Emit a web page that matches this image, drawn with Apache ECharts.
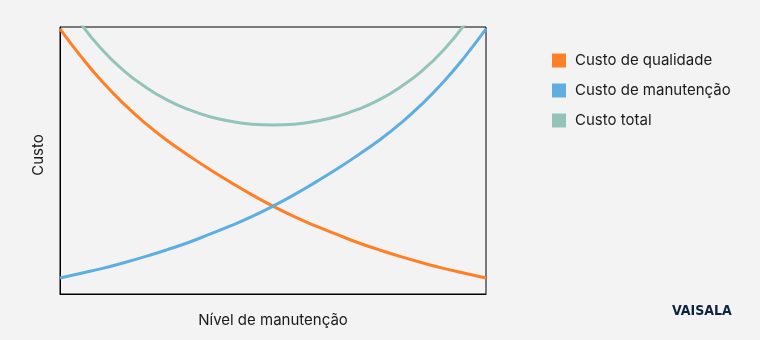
<!DOCTYPE html>
<html>
<head>
<meta charset="utf-8">
<script src="https://cdn.jsdelivr.net/npm/echarts@6/dist/echarts.min.js"></script>
<style>
html,body{margin:0;padding:0;background:#f3f3f3;}
#c{width:760px;height:340px;}
</style>
</head>
<body>
<div id="c"></div>
<script>
// Maintenance level steps (0..20)
const levels = [0,1,2,3,4,5,6,7,8,9,10,11,12,13,14,15,16,17,18,19,20];
const qualityCost = [99.3,88.8,79.4,71.2,64.0,57.7,52.1,46.8,41.9,37.2,32.9,29.0,25.5,22.3,19.2,16.5,14.0,11.7,9.6,7.8,6.0];
const maintenanceCost = [6.0,7.8,9.6,11.7,14.0,16.5,19.2,22.3,25.5,29.0,32.9,37.2,41.9,46.8,52.1,57.7,64.0,71.2,79.4,88.8,99.3];
const totalCost = [113.3,101.0,91.3,83.6,77.6,72.8,69.2,66.5,64.7,63.6,63.3,63.6,64.7,66.5,69.2,72.8,77.6,83.6,91.3,101.0,113.3];
const seriesNames = ['Custo de qualidade','Custo de manutenção','Custo total'];
const colors = ['#ff7f27','#5eaee0','#93c4b9'];

const font = 'Inter, "Noto Sans", sans-serif';
const pairs = arr => levels.map((x,i)=>[x, arr[i]]);
const mk = (name, arr, color) => ({
  name, type:'line', data:pairs(arr), smooth:true, symbol:'none',
  lineStyle:{color, width:3}, itemStyle:{color}, clip:true, z: 3
});

const chart = echarts.init(document.getElementById('c'));
chart.setOption({
  backgroundColor:'#f3f3f3',
  animation:false,
  grid:{left:60, right:274, top:27, bottom:46, show:true, borderColor:'#000', borderWidth:1, backgroundColor:'transparent'},
  xAxis:{type:'value', min:0, max:20, name:'Nível de manutenção', nameLocation:'middle', nameGap:19,
    nameTextStyle:{color:'#1a1a1a', fontSize:15, fontFamily:font},
    axisLine:{show:true, lineStyle:{color:'#000', width:1}}, axisTick:{show:false}, axisLabel:{show:false}, splitLine:{show:false}},
  yAxis:{type:'value', min:0, max:100,
    axisLine:{show:true, lineStyle:{color:'#000', width:1}}, axisTick:{show:false}, axisLabel:{show:false}, splitLine:{show:false}},
  legend:{orient:'vertical', left:547, top:48, icon:'rect', itemWidth:14, itemHeight:14, itemGap:15,
    data:seriesNames,
    textStyle:{color:'#1a1a1a', fontSize:15, fontFamily:font, padding:[0,0,0,4]}},
  series:[
    mk(seriesNames[0], qualityCost, colors[0]),
    mk(seriesNames[1], maintenanceCost, colors[1]),
    mk(seriesNames[2], totalCost, colors[2])
  ],
  graphic:[
    {type:'text', x:38, y:155, rotation:Math.PI/2,
      style:{text:'Custo', fill:'#1a1a1a', font:'15px Inter, "Noto Sans", sans-serif', align:'center', verticalAlign:'middle'}},
    {type:'text', left:672, top:304, style:{text:'VAISALA', fill:'#0d2340', font:'bold 14px "DejaVu Sans Condensed", "Liberation Sans Narrow", sans-serif'}}
  ]
});
</script>
</body>
</html>
